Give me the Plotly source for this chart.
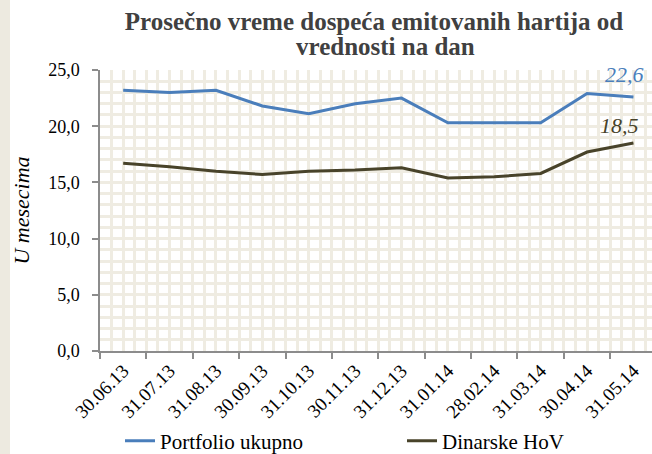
import plotly.graph_objects as go

categories = ["30.06.13", "31.07.13", "31.08.13", "30.09.13", "31.10.13", "30.11.13",
              "31.12.13", "31.01.14", "28.02.14", "31.03.14", "30.04.14", "31.05.14"]
portfolio = [23.2, 23.0, 23.2, 21.8, 21.1, 22.0, 22.5, 20.3, 20.3, 20.3, 22.9, 22.6]
dinarske = [16.7, 16.4, 16.0, 15.7, 16.0, 16.1, 16.3, 15.4, 15.5, 15.8, 17.7, 18.5]
y_ticks = [0, 5, 10, 15, 20, 25]
title_lines = ["Prosečno vreme dospeća emitovanih hartija od", "vrednosti na dan"]

idx = list(range(len(categories)))
boundaries = [i - 0.5 for i in range(len(categories) + 1)]

def fmt(v):
    return f"{v:.1f}".replace(".", ",")

BLUE = "#4A7EBB"
DARK = "#48432A"
GRID = "#EFECE2"
AXIS = "#8C8C8C"
SERIF = "Liberation Serif, Times New Roman, serif"

fig = go.Figure()
fig.add_trace(go.Scatter(
    x=idx, y=portfolio, name="Portfolio ukupno", mode="lines",
    line=dict(color=BLUE, width=3), legend="legend"))
fig.add_trace(go.Scatter(
    x=idx, y=dinarske, name="Dinarske HoV", mode="lines",
    line=dict(color=DARK, width=3), legend="legend2"))
fig.add_trace(go.Scatter(x=[], y=[], xaxis="x2", showlegend=False, hoverinfo="skip"))

xr = [-0.5, 11.4]
legend_common = dict(orientation="h", xref="container", yref="container",
                     y=1 - 441 / 454, yanchor="middle", xanchor="left",
                     font=dict(family=SERIF, size=21, color="#000000"),
                     bgcolor="rgba(0,0,0,0)", borderwidth=0, visible=True)
fig.update_layout(
    width=652, height=454,
    margin=dict(l=100, r=0, t=70, b=103, autoexpand=False),
    paper_bgcolor="white", plot_bgcolor="white",
    separators=",.", showlegend=True,
    font=dict(family=SERIF, color="#000000"),
    title=dict(text="<b>" + title_lines[0] + "</b>",
               x=(374 - 100) / 552, xref="paper", xanchor="center", yref="container",
               y=1 - 21 / 454, yanchor="middle",
               font=dict(family=SERIF, size=25, color="#404040")),
    xaxis=dict(range=xr, tickvals=idx, ticktext=categories, tickangle=-45,
               ticks="", showline=False, zeroline=False, automargin=False,
               tickfont=dict(family=SERIF, size=19), ticklabelstandoff=4,
               showgrid=True, gridcolor=GRID, gridwidth=2.5,
               minor=dict(tick0=-0.5, dtick=0.25, showgrid=True, gridcolor=GRID, gridwidth=2.5)),
    xaxis2=dict(range=xr, overlaying="x", anchor="y", side="bottom", automargin=False,
                tickvals=boundaries, ticks="outside", ticklen=6, tickcolor=AXIS, tickwidth=1.5,
                showticklabels=False, showline=True, linecolor=AXIS, linewidth=1.5,
                showgrid=False, zeroline=False),
    yaxis=dict(range=[0, 25], tickvals=y_ticks, tickformat=".1f", automargin=False,
               ticks="outside", ticklen=6, tickcolor=AXIS, tickwidth=1.5,
               showline=True, linecolor=AXIS, linewidth=1.5, zeroline=False,
               tickfont=dict(family=SERIF, size=18), ticklabelstandoff=9,
               showgrid=True, gridcolor=GRID, gridwidth=2.5,
               minor=dict(dtick=1, showgrid=True, gridcolor=GRID, gridwidth=2.5),
               title=dict(text="<i>U mesecima</i>", font=dict(family=SERIF, size=22), standoff=12)),
    legend=dict(x=120 / 652, **legend_common),
    legend2=dict(x=402 / 652, **legend_common),
    shapes=[dict(type="rect", xref="paper", yref="paper",
                 x0=-100 / 552, x1=-90 / 552, y0=-103 / 281, y1=(281 + 70) / 281,
                 fillcolor="#EDEAE0", line=dict(width=0), layer="below")],
    annotations=[
        dict(text="<b>" + title_lines[1] + "</b>", xref="paper", yref="paper",
             x=(385 - 100) / 552, y=(351 - 46) / 281, xanchor="center", yanchor="middle",
             showarrow=False, font=dict(family=SERIF, size=25, color="#404040")),
        dict(text="<i>" + fmt(portfolio[-1]) + "</i>", x=idx[-1], y=portfolio[-1],
             xref="x", yref="y", xanchor="center", yanchor="middle", xshift=-9, yshift=22,
             showarrow=False, font=dict(family=SERIF, size=22, color=BLUE)),
        dict(text="<i>" + fmt(dinarske[-1]) + "</i>", x=idx[-1], y=dinarske[-1],
             xref="x", yref="y", xanchor="center", yanchor="middle", xshift=-14, yshift=18,
             showarrow=False, font=dict(family=SERIF, size=22, color=DARK)),
    ],
)

fig.write_html("out.html", config={"displayModeBar": False},
               post_script="document.body.style.margin='0';document.body.style.overflow='hidden';")
